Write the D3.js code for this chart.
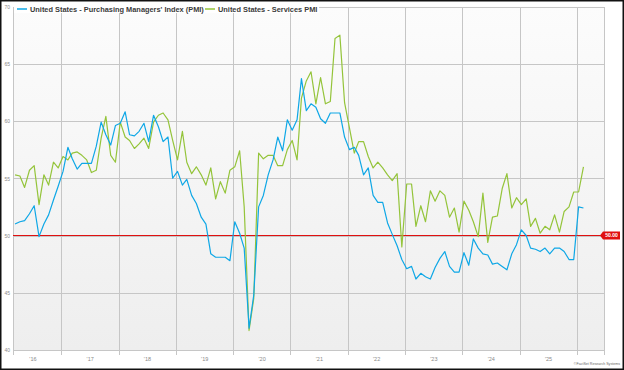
<!DOCTYPE html>
<html><head><meta charset="utf-8">
<script src="https://cdn.jsdelivr.net/npm/d3@7"></script>
<style>html,body{margin:0;padding:0;background:#fff;}svg{display:block;}</style>
</head><body><svg id="c" width="624" height="370"></svg>
<script>
// ---- data (monthly, Mar 2016 .. Feb 2026) ----
const startYear = 2016, startMonth = 2; // March 2016 (0-based month)
const pmiValues = [
51.0,51.2,51.3,51.9,52.6,49.9,51.0,51.8,53.1,54.3,
55.6,57.7,56.7,55.8,56.3,56.3,56.3,57.8,59.9,58.8,57.9,59.6,
59.8,60.8,58.8,58.7,59.1,59.8,58.2,60.5,59.5,58.2,58.6,55.0,
55.6,54.4,54.9,53.5,52.8,51.6,51.0,48.4,48.1,48.1,48.1,47.8,
51.2,50.2,48.9,41.9,44.8,52.5,53.5,55.3,56.6,58.6,57.4,60.1,
59.2,60.1,63.7,60.9,61.5,61.2,60.2,59.8,60.7,60.7,60.7,58.6,
57.5,57.7,57.0,55.3,55.9,53.5,52.9,52.9,51.1,50.1,49.1,47.9,
47.1,47.3,46.2,46.7,46.4,46.2,47.2,48.0,48.6,47.3,46.8,46.8,
48.5,47.4,49.7,48.9,48.4,48.3,47.5,47.6,47.3,47.0,48.4,49.2,
50.5,50.0,48.9,48.8,48.6,48.9,48.4,48.9,48.9,48.6,47.9,47.9,
52.5,52.4];
const servicesValues = [
55.3,55.2,54.2,55.7,56.1,52.7,55.3,54.4,56.4,55.9,
56.9,56.6,57.2,57.3,57.0,56.6,55.5,55.7,58.5,60.4,57.0,56.4,
59.9,58.6,58.3,57.6,58.0,58.5,57.6,59.9,60.5,60.7,60.1,58.3,
56.6,59.1,56.4,55.4,56.0,55.3,54.4,55.9,53.2,54.7,53.7,55.7,
56.0,57.4,52.5,41.7,44.5,57.2,56.7,57.0,57.0,56.1,56.1,57.5,
58.3,56.6,62.0,63.5,64.3,61.5,63.8,61.5,61.7,67.2,67.5,61.6,
59.4,57.2,58.2,58.2,56.9,55.9,56.4,55.9,55.3,54.8,55.4,49.0,
54.5,54.5,50.8,52.6,51.2,53.9,53.0,53.9,53.5,51.6,52.4,50.3,
53.0,52.2,51.2,49.9,53.7,49.4,51.6,51.7,54.1,55.4,52.4,53.3,
52.7,53.2,50.8,51.5,50.2,50.8,50.5,51.8,50.3,52.1,52.5,53.8,
53.8,56.0];
const seriesNames = ["United States - Purchasing Managers' Index (PMI)", "United States - Services PMI"];
const yTicks = [40,45,50,55,60,65,70];
const yearTicks = [2017,2018,2019,2020,2021,2022,2023,2024,2025,2026];
const yearLabels = ["'16","'17","'18","'19","'20","'21","'22","'23","'24","'25"];
const labelYears = [2016,2017,2018,2019,2020,2021,2022,2023,2024,2025];
const refValue = 50;
const refLabel = "50.00";
const credit = "©FactSet Research Systems";

// ---- layout ----
const W = 624, H = 370;
const L = 13, R = 604, T = 6.5, B = 350;
const BLUE = "#0ea7e6", GREEN = "#94c43a";

const svg = d3.select("#c");
const x = d3.scaleTime().domain([new Date(2016,1,28), new Date(2026,5,23)]).range([L, R]);
const y = d3.scaleLinear().domain([40,70]).range([B, T]);
const dates = pmiValues.map((_, i) => new Date(startYear, startMonth + i, 12));

// background
svg.append("rect").attr("width", W).attr("height", H).attr("fill", "#fff");
const defs = svg.append("defs");
const g = defs.append("linearGradient").attr("id","bg").attr("x1",0).attr("y1",0).attr("x2",0).attr("y2",1);
g.append("stop").attr("offset","0%").attr("stop-color","#fcfcfc");
g.append("stop").attr("offset","100%").attr("stop-color","#eeeeee");
svg.append("rect").attr("x", L).attr("y", T).attr("width", R-L).attr("height", B-T).attr("fill","url(#bg)");

// grid
const grid = svg.append("g").attr("stroke","#c6c6c6").attr("stroke-width",1).attr("shape-rendering","crispEdges");
yTicks.forEach(v => grid.append("line").attr("x1",L).attr("x2",R).attr("y1",Math.round(y(v))+0.5).attr("y2",Math.round(y(v))+0.5));
yearTicks.forEach(yr => {
  const xx = Math.round(x(new Date(yr,0,1)))+0.5;
  grid.append("line").attr("x1",xx).attr("x2",xx).attr("y1",T).attr("y2",B+5);
});
grid.append("line").attr("x1",L+0.5).attr("x2",L+0.5).attr("y1",T).attr("y2",B+5);
grid.append("line").attr("x1",R+0.5).attr("x2",R+0.5).attr("y1",T).attr("y2",B+5);

// axis labels
const yAxis = d3.axisLeft(y).tickValues(yTicks).tickSize(0).tickFormat(d3.format("d"));
const ya = svg.append("g").attr("transform",`translate(${L-2},0)`).call(yAxis);
ya.select(".domain").remove();
ya.selectAll("text").attr("font-family","Liberation Sans, Arial, sans-serif").attr("font-size",5).attr("fill","#8a8a8a").attr("text-anchor","end").attr("x",-1).attr("dy","0.35em");

const xAxis = d3.axisBottom(x).tickValues(labelYears.map(yr => new Date(yr,6,1))).tickSize(0).tickFormat((d,i) => yearLabels[i]);
const xa = svg.append("g").attr("transform",`translate(0,${B+4})`).call(xAxis);
xa.select(".domain").remove();
xa.selectAll("text").attr("font-family","Liberation Sans, Arial, sans-serif").attr("font-size",5.5).attr("fill","#8a8a8a");

// reference line
svg.append("line").attr("x1",L).attr("x2",R).attr("y1",y(refValue)).attr("y2",y(refValue)).attr("stroke","#e01010").attr("stroke-width",1.2);

// series
const line = d3.line().x((d,i) => x(dates[i])).y(d => y(d));
svg.append("path").datum(servicesValues).attr("d", line).attr("fill","none").attr("stroke",GREEN).attr("stroke-width",1.2).attr("stroke-linejoin","round");
svg.append("path").datum(pmiValues).attr("d", line).attr("fill","none").attr("stroke",BLUE).attr("stroke-width",1.2).attr("stroke-linejoin","round");

// reference tag
const ty = y(refValue);
svg.append("path").attr("d",`M${R-4},${ty} L${R-1},${ty-4} L${R+16},${ty-4} L${R+16},${ty+4} L${R-1},${ty+4} Z`).attr("fill","#e01010");
svg.append("text").attr("x",R+7.5).attr("y",ty+1.8).attr("text-anchor","middle").attr("font-family","Liberation Sans, Arial, sans-serif").attr("font-size",5).attr("font-weight","bold").attr("fill","#fff").text(refLabel);

// legend
const lg = svg.append("g").attr("font-family","Liberation Sans, Arial, sans-serif").attr("font-size",7.4).attr("font-weight","bold").attr("fill","#3a3a3a");
lg.append("rect").attr("x",14).attr("y",3).attr("width",305).attr("height",10).attr("fill","#fff");
lg.append("line").attr("x1",17).attr("x2",27).attr("y1",9).attr("y2",9).attr("stroke",BLUE).attr("stroke-width",1.5);
lg.append("text").attr("x",30).attr("y",11.5).text(seriesNames[0]);
lg.append("line").attr("x1",205).attr("x2",215).attr("y1",9).attr("y2",9).attr("stroke",GREEN).attr("stroke-width",1.5);
lg.append("text").attr("x",218).attr("y",11.5).text(seriesNames[1]);

// credit
svg.append("text").attr("x",620).attr("y",365).attr("text-anchor","end").attr("font-family","Liberation Sans, Arial, sans-serif").attr("font-size",3.6).attr("fill","#666").text(credit);

// frame
svg.append("rect").attr("x",0.75).attr("y",0.75).attr("width",W-1.5).attr("height",H-1.5).attr("fill","none").attr("stroke","#111").attr("stroke-width",1.5);
</script></body></html>
